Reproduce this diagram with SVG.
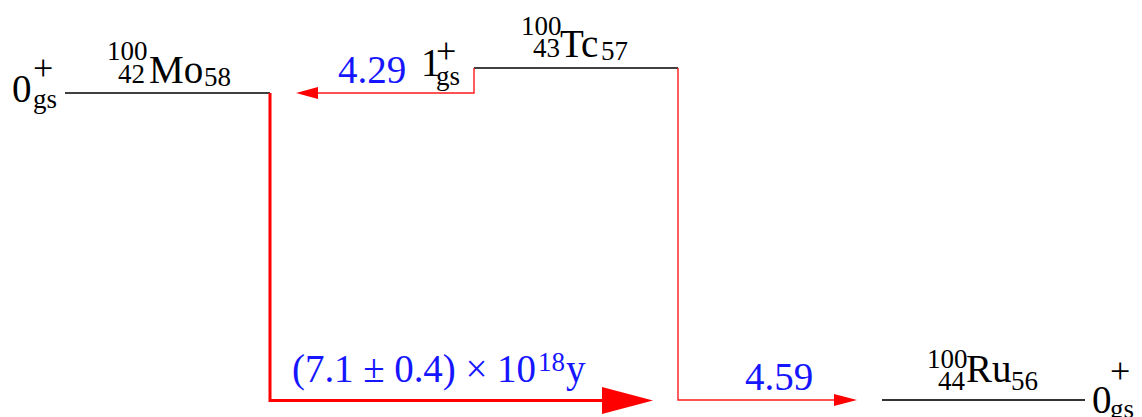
<svg xmlns="http://www.w3.org/2000/svg" width="1142" height="417" viewBox="0 0 1142 417" font-family="'Liberation Serif', 'DejaVu Serif', serif">
<style>
text{font-family:'Liberation Serif','DejaVu Serif',serif;fill:#000}
.m{font-size:39px}
.s{font-size:27px}
.p{font-size:36px}
.b{fill:#1515ff}
.lvl{stroke:#000;stroke-width:1.5;fill:none}
.thin{stroke:#ff1a1a;stroke-width:1.4;fill:none}
.thick{stroke:#ff0000;stroke-width:3;fill:none}
.ah{fill:#ff0000;stroke:none}
</style>
<rect width="1142" height="417" fill="#fff"/>
<g id="node-mo">
<line class="lvl" x1="65" y1="93" x2="270" y2="93"/>
<text class="m" x="12" y="102">0</text>
<text class="p" x="33" y="80">+</text>
<text class="s" x="33" y="108">gs</text>
<text class="s" x="107" y="60">100</text>
<text class="s" x="118" y="83">42</text>
<text class="m" x="149" y="83">Mo</text>
<text class="s" x="204" y="86">58</text>
</g>
<g id="node-tc">
<line class="lvl" x1="474" y1="68" x2="678" y2="68"/>
<text class="m" x="421" y="76">1</text>
<text class="p" x="436" y="63">+</text>
<text class="s" x="436" y="85">gs</text>
<text class="s" x="521" y="35">100</text>
<text class="s" x="533" y="57">43</text>
<text class="m" x="560" y="57">Tc</text>
<text class="s" x="601" y="60">57</text>
</g>
<g id="node-ru">
<line class="lvl" x1="882" y1="400" x2="1085" y2="400" style="stroke:#333;stroke-width:2"/>
<text class="m" x="1092" y="413">0</text>
<text class="p" x="1110" y="383">+</text>
<text class="s" x="1110" y="418">gs</text>
<text class="s" x="927" y="368">100</text>
<text class="s" x="938" y="390">44</text>
<text class="m" x="966" y="382">Ru</text>
<text class="s" x="1011" y="390">56</text>
</g>
<g id="connectors">
<path class="thick" d="M270,93 V400.5 H606"/>
<polygon class="ah" points="602,387 653,400.5 602,414"/>
<path class="thin" d="M474,68 V93 H312"/>
<polygon class="ah" points="296,93 318,87 318,99"/>
<path class="thin" d="M678,68 V400 H838"/>
<polygon class="ah" points="857,400 834,394 834,406"/>
</g>
<g id="labels">
<text class="m b" x="338" y="83">4.29</text>
<text class="m b" x="745" y="390">4.59</text>
<text class="m b" x="292" y="382" textLength="244" lengthAdjust="spacing">(7.1 ± 0.4) × 10</text>
<text class="s b" x="538" y="371">18</text>
<text class="m b" x="566" y="382">y</text>
</g>
</svg>
